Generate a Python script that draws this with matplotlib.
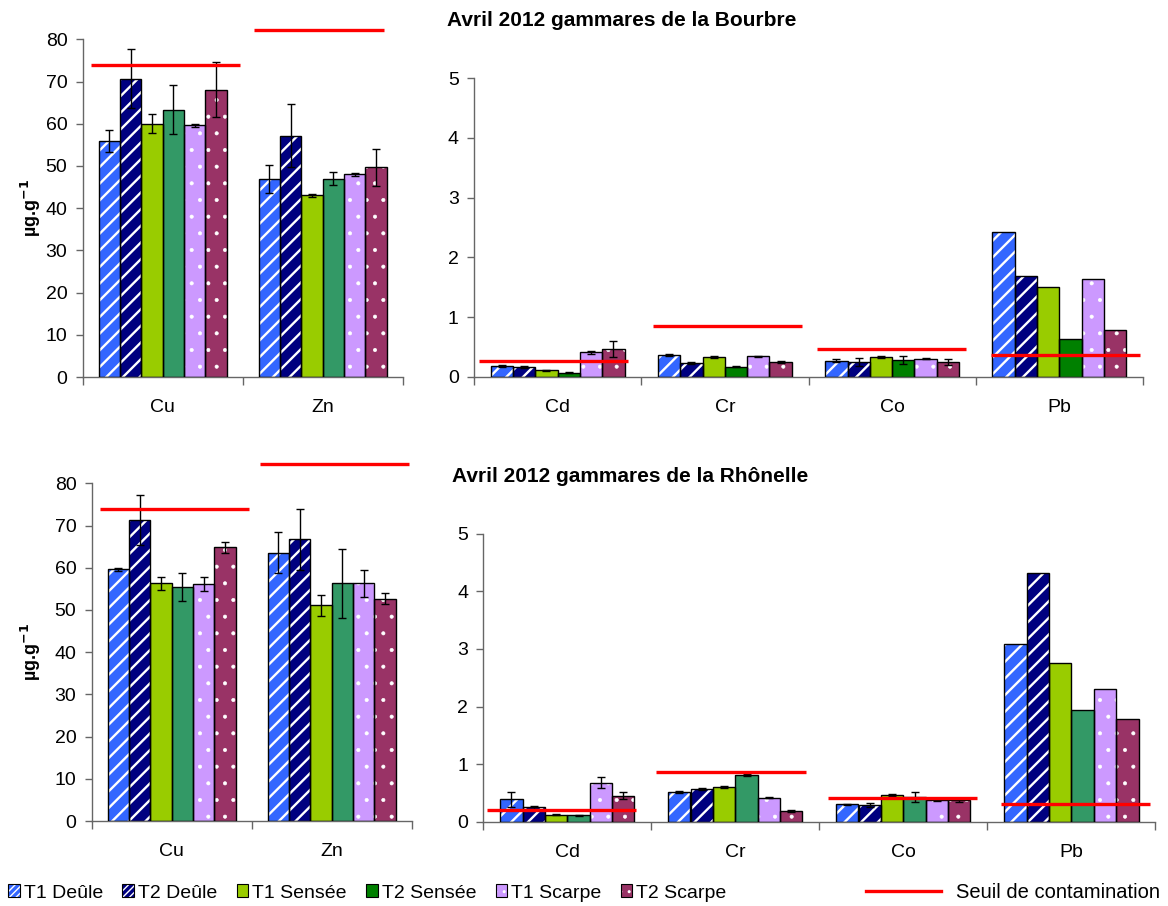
"""
Metal concentrations in caged gammarids, April 2012 (Bourbre and Rhônelle).
Two rows: major metals (Cu, Zn) on the left, trace metals on the right.
"""

import matplotlib
matplotlib.use("Agg")
import matplotlib.pyplot as plt
import numpy as np
from matplotlib.patches import Patch
from matplotlib.lines import Line2D

plt.rcParams["font.family"] = ["Liberation Sans", "DejaVu Sans"]

series = ["T1 Deûle", "T2 Deûle", "T1 Sensée", "T2 Sensée", "T1 Scarpe", "T2 Scarpe"]
major_metals = ["Cu", "Zn"]
trace_metals = ["Cd", "Cr", "Co", "Pb"]

# --- Bourbre (one row per series, one value per metal) ---
bourbre_major = [[55.9, 47.0], [70.7, 57.2], [60.0, 43.0],
                 [63.3, 47.0], [59.6, 48.0], [68.1, 49.7]]
bourbre_major_err = [[2.7, 3.3], [6.9, 7.5], [2.3, 0.3],
                     [5.8, 1.5], [0.3, 0.3], [6.6, 4.4]]
bourbre_trace = [[0.18, 0.37, 0.27, 2.42], [0.16, 0.23, 0.24, 1.69],
                 [0.11, 0.33, 0.33, 1.51], [0.07, 0.17, 0.28, 0.63],
                 [0.41, 0.34, 0.30, 1.64], [0.46, 0.25, 0.25, 0.78]]
bourbre_trace_err = [[0.02, 0.015, 0.03, 0], [0.02, 0.015, 0.065, 0],
                     [0.01, 0.015, 0.01, 0], [0.01, 0.015, 0.06, 0],
                     [0.025, 0.015, 0.01, 0], [0.135, 0.02, 0.05, 0]]
bourbre_major_limits = [74.0, 82.2]
bourbre_trace_limits = [0.26, 0.85, 0.47, 0.36]

# --- Rhônelle ---
rhonelle_major = [[59.6, 63.6], [71.3, 66.7], [56.3, 51.1],
                  [55.5, 56.3], [56.1, 56.3], [64.8, 52.7]]
rhonelle_major_err = [[0.4, 4.8], [6.0, 7.3], [1.5, 2.5],
                      [3.3, 8.2], [1.7, 3.2], [1.2, 1.2]]
rhonelle_trace = [[0.39, 0.51, 0.30, 3.09], [0.25, 0.57, 0.29, 4.31],
                  [0.12, 0.60, 0.46, 2.76], [0.11, 0.81, 0.43, 1.94],
                  [0.68, 0.42, 0.37, 2.30], [0.45, 0.19, 0.38, 1.78]]
rhonelle_trace_err = [[0.13, 0.015, 0.01, 0], [0.03, 0.015, 0.03, 0],
                      [0.01, 0.015, 0.015, 0], [0.01, 0.015, 0.08, 0],
                      [0.09, 0.015, 0.01, 0], [0.06, 0.015, 0.04, 0]]
rhonelle_major_limits = [74.0, 84.5]
rhonelle_trace_limits = [0.20, 0.86, 0.42, 0.31]

# styling
colors = ["#3366FF", "#000080", "#99CC00", "#339966", "#CC99FF", "#993366"]
colors_dark_t2s = ["#3366FF", "#000080", "#99CC00", "#008000", "#CC99FF", "#993366"]
hatches = ["//", "//", None, None, ".", "."]
legend_hatches = ["/////", "/////", None, None, "..", ".."]
hatch_lw = [1.7, 1.7, 1.0, 1.0, 0.45, 0.45]
AXIS_GREY = "#666666"
TICK_FS = 14

# red threshold line extent inside each category (fractions of category width)
spans_top_major = [(0.05, 0.98), (0.07, 0.88)]
spans_top_trace = [(0.03, 0.92), (0.07, 0.96), (0.05, 0.94), (0.09, 0.98)]
spans_bot_major = [(0.05, 0.98), (0.05, 0.98)]
spans_bot_trace = [(0.02, 0.91), (0.03, 0.92), (0.05, 0.94), (0.08, 0.97)]


def draw_panel(ax, metals, values, errors, limits, spans, ymax, ystep, cols):
    x = np.arange(len(metals))
    w = 0.8 / len(series)
    for i in range(len(series)):
        xi = x + (i - 2.5) * w
        vals = np.array(values[i], float)
        with plt.rc_context({"hatch.linewidth": hatch_lw[i]}):
            bars = ax.bar(xi, vals, w, color=cols[i], edgecolor="white",
                          hatch=hatches[i], linewidth=0, zorder=2)
        for b in bars:
            if hasattr(b, "set_hatch_linewidth"):
                b.set_hatch_linewidth(hatch_lw[i])
        ax.bar(xi, vals, w, fill=False, edgecolor="black", linewidth=1.0, zorder=3)
        err = np.array(errors[i], float)
        ok = err > 0
        if ok.any():
            ax.errorbar(xi[ok], vals[ok], yerr=err[ok], fmt="none", ecolor="black",
                        elinewidth=1.0, capsize=3, capthick=1.0, zorder=4)

    for j, (lim, (a, b)) in enumerate(zip(limits, spans)):
        ax.plot([j - 0.5 + a, j - 0.5 + b], [lim, lim], color="#FF0000", lw=2.4,
                solid_capstyle="butt", clip_on=False, zorder=5)

    ax.set_xlim(-0.5, len(metals) - 0.5)
    ax.set_ylim(0, ymax)
    ax.set_yticks(np.arange(0, ymax + ystep / 2, ystep))
    ax.set_xticks(np.arange(len(metals) + 1) - 0.5)
    ax.set_xticklabels([])
    ax.set_xticks(x, minor=True)
    ax.set_xticklabels(metals, minor=True)
    ax.tick_params(axis="x", which="major", length=6, width=1, color=AXIS_GREY)
    ax.tick_params(axis="x", which="minor", length=0, pad=16, labelsize=TICK_FS)
    ax.tick_params(axis="y", length=5, width=1, pad=6, labelsize=TICK_FS, color=AXIS_GREY)
    for s in ("top", "right"):
        ax.spines[s].set_visible(False)
    for s in ("left", "bottom"):
        ax.spines[s].set_color(AXIS_GREY)
        ax.spines[s].set_linewidth(1.0)
    ax.set_facecolor("none")


W, H = 1168, 906
fig = plt.figure(figsize=(W / 100, H / 100), dpi=100)


def px_axes(x0, y_top, x1, y_bot):
    return fig.add_axes([x0 / W, 1 - y_bot / H, (x1 - x0) / W, (y_bot - y_top) / H])


ax_tl = px_axes(82.7, 39.3, 402.7, 377)
ax_tr = px_axes(474, 78.2, 1143, 376.7)
ax_bl = px_axes(91.7, 483.3, 411.7, 821)
ax_br = px_axes(483.3, 533.7, 1155.3, 821.7)

draw_panel(ax_tl, major_metals, bourbre_major, bourbre_major_err,
           bourbre_major_limits, spans_top_major, 80, 10, colors)
draw_panel(ax_tr, trace_metals, bourbre_trace, bourbre_trace_err,
           bourbre_trace_limits, spans_top_trace, 5, 1, colors_dark_t2s)
draw_panel(ax_bl, major_metals, rhonelle_major, rhonelle_major_err,
           rhonelle_major_limits, spans_bot_major, 80, 10, colors)
draw_panel(ax_br, trace_metals, rhonelle_trace, rhonelle_trace_err,
           rhonelle_trace_limits, spans_bot_trace, 5, 1, colors)

fig.text(622 / W, 1 - 21 / H, "Avril 2012 gammares de la Bourbre",
         ha="center", va="center", fontsize=15, fontweight="bold")
fig.text(630 / W, 1 - 477 / H, "Avril 2012 gammares de la Rhônelle",
         ha="center", va="center", fontsize=15, fontweight="bold")

for yc in (208, 652):
    fig.text(31 / W, 1 - yc / H, r"µg.g$^{\mathbf{-1}}$", rotation=90,
             ha="center", va="center", fontsize=13, fontweight="bold")

# legend: hatched swatch + black outline overlaid
handles = []
for i in range(len(series)):
    with plt.rc_context({"hatch.linewidth": 0.6}):
        h1 = Patch(facecolor=colors_dark_t2s[i], edgecolor="white",
                   hatch=legend_hatches[i], linewidth=0)
    h2 = Patch(facecolor="none", edgecolor="black", linewidth=0.8)
    handles.append((h1, h2))

fig.legend(handles, series, loc="center left",
           bbox_to_anchor=(8 / W, 13 / H), ncol=6, frameon=False,
           fontsize=14, handlelength=0.6, handleheight=0.6,
           handletextpad=0.2, columnspacing=1.0,
           borderpad=0, borderaxespad=0)
fig.legend([Line2D([], [], color="#FF0000", lw=2.4)], ["Seuil de contamination"],
           loc="center left", bbox_to_anchor=(866 / W, 13 / H), frameon=False,
           fontsize=14.5, handlelength=3.7, handletextpad=0.75,
           borderpad=0, borderaxespad=0)

fig.savefig("out.png", dpi=100)
